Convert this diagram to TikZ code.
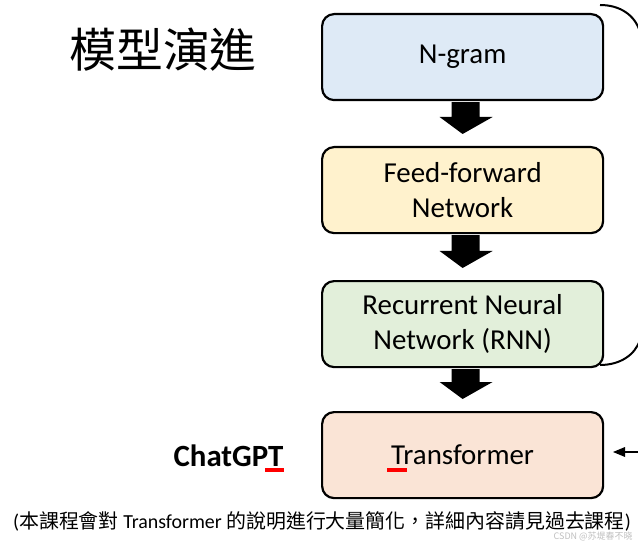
\documentclass[tikz,border=0pt]{standalone}
\usepackage{fontspec}
\setmainfont{Carlito}
\newfontfamily\cjk{Noto Sans CJK TC}
\begin{document}
\begin{tikzpicture}[x=1bp,y=-1bp,
  box/.style={draw=black,line width=2.2bp,rounded corners=12bp,minimum width=281bp,minimum height=86bp,anchor=north west,align=center,font=\fontsize{29}{35}\selectfont},
  barrow/.style={fill=black},
  brace/.style={draw=black,line width=2bp}]
\useasboundingbox (0,0) rectangle (638,546);
\node[box,fill={rgb,255:red,222;green,234;blue,246}] (ng) at (321,13) {N-gram};
\node[box,fill={rgb,255:red,255;green,242;blue,205}] (ff) at (321,146) {Feed-forward\\Network};
\node[box,fill={rgb,255:red,226;green,239;blue,218}] (rnn) at (321,280) {Recurrent Neural\\Network (RNN)};
\node[box,fill={rgb,255:red,250;green,228;blue,214}] (tf) at (321,411) {Transformer};
\foreach \a/\b in {ng/ff,ff/rnn,rnn/tf}{
  \path ([yshift=-1bp]\a.south) coordinate (s) ([yshift=12bp]\b.north) coordinate (e);
  \fill[barrow] ([xshift=-11bp]s) -- ([xshift=17bp]s) -- ([xshift=17bp,yshift=17bp]e) -- ([xshift=30bp,yshift=17bp]e) -- (e) -- ([xshift=-23bp,yshift=17bp]e) -- ([xshift=-11bp,yshift=17bp]e) -- cycle;
}
\coordinate (b1) at (600,5);
\coordinate (b2) at (640,32);
\coordinate (b3) at (600,365);
\coordinate (b4) at (640,340);
\draw[brace] (b1) .. controls (620,5) and (635,15) .. (b2);
\draw[brace] (b3) .. controls (620,365) and (635,355) .. (b4);
\coordinate (a1) at (640,452);
\coordinate (a2) at (617,452);
\draw[brace] (a1) -- (a2);
\fill (613,452) -- (625,447) -- (625,457) -- cycle;
\fill[red] (387,468) rectangle (407,472);
\node[font=\fontsize{47}{50}\selectfont\cjk,anchor=west] (title) at (66,50) {模型演進};
\node[font=\fontsize{31}{34}\selectfont\bfseries,anchor=east] (gpt) at (287,456) {ChatGPT};
\fill[red] (265,468) rectangle (284,472);
\node[font=\fontsize{20}{24}\selectfont] (cap) at (322,521) {(\cjk 本課程會對\ \rmfamily Transformer\ \cjk 的說明進行大量簡化，詳細內容請見過去課程\rmfamily)};
\node[font=\fontsize{9}{10}\selectfont\cjk,text=gray!50,anchor=east] (wm) at (636,537) {CSDN @苏堤春不晓};
\end{tikzpicture}
\end{document}
